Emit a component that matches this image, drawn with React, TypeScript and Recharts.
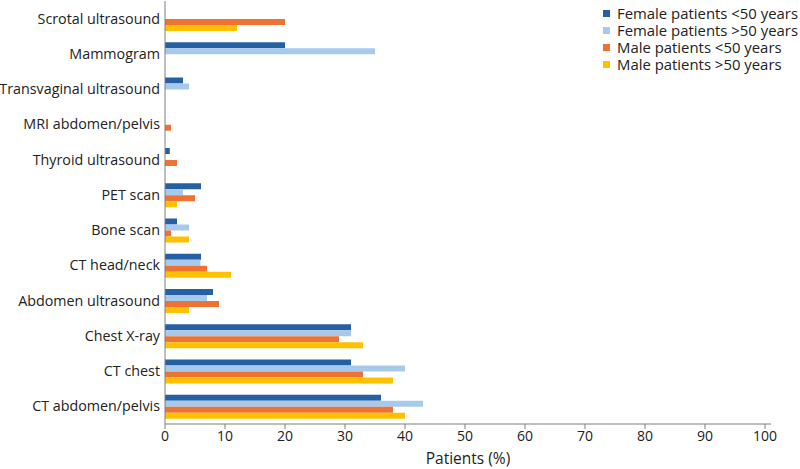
import { Bar, BarChart, XAxis, YAxis, Label } from 'recharts'

const categories = [
  'Scrotal ultrasound',
  'Mammogram',
  'Transvaginal ultrasound',
  'MRI abdomen/pelvis',
  'Thyroid ultrasound',
  'PET scan',
  'Bone scan',
  'CT head/neck',
  'Abdomen ultrasound',
  'Chest X-ray',
  'CT chest',
  'CT abdomen/pelvis',
]

const femaleUnder50 = [0, 20, 3, 0, 0.8, 6, 2, 6, 8, 31, 31, 36]
const femaleOver50 = [0, 35, 4, 0, 0, 3, 4, 5.9, 7, 31, 40, 43]
const maleUnder50 = [20, 0, 0, 1, 2, 5, 1, 7, 9, 29, 33, 38]
const maleOver50 = [12, 0, 0, 0, 0, 2, 4, 11, 4, 33, 38, 40]

const xTicks = [0, 10, 20, 30, 40, 50, 60, 70, 80, 90, 100]

const series = [
  { key: 'fu50', name: 'Female patients <50 years', color: '#2660A4', values: femaleUnder50 },
  { key: 'fo50', name: 'Female patients >50 years', color: '#A7C9EC', values: femaleOver50 },
  { key: 'mu50', name: 'Male patients <50 years', color: '#EE7232', values: maleUnder50 },
  { key: 'mo50', name: 'Male patients >50 years', color: '#FFC000', values: maleOver50 },
]

const data = categories.map((name, i) => {
  const row: Record<string, string | number> = { name }
  series.forEach((s) => {
    row[s.key] = s.values[i]
  })
  return row
})

const font = '"Open Sans", sans-serif'

function LegendBox() {
  return (
    <div
      style={{
        position: 'absolute',
        left: 603,
        top: 5,
        width: 197,
        fontFamily: font,
        fontSize: 14.9,
        color: '#222',
        lineHeight: '17px',
      }}
    >
      {series.map((s) => (
        <div key={s.key} style={{ display: 'flex', alignItems: 'center', whiteSpace: 'nowrap', height: 17 }}>
          <span style={{ width: 7, height: 7, background: s.color, marginRight: 7, flex: 'none' }} />
          {s.name}
        </div>
      ))}
    </div>
  )
}

export default function App() {
  return (
    <div style={{ position: 'absolute', left: 0, top: 0, width: 800, height: 469, background: '#fff' }}>
      <BarChart
        width={800}
        height={469}
        data={data}
        layout='vertical'
        margin={{ top: 1, right: 29, bottom: 0, left: 0 }}
        barGap={0}
        barSize={6}
      >
        <XAxis
          type='number'
          domain={[0, 101]}
          ticks={xTicks}
          height={45}
          stroke='#7f7f7f'
          tickSize={5}
          tickMargin={2}
          tick={{ fill: '#222', fontSize: 14, fontFamily: font }}
          allowDataOverflow
        >
          <Label
            value='Patients (%)'
            position='insideBottom'
            offset={5}
            style={{ fill: '#222', fontSize: 15.5, fontFamily: font }}
          />
        </XAxis>
        <YAxis
          type='category'
          dataKey='name'
          width={165}
          stroke='#7f7f7f'
          tickSize={0}
          tickMargin={5}
          interval={0}
          tick={{ fill: '#222', fontSize: 14.3, fontFamily: font }}
        />
        {series.map((s) => (
          <Bar key={s.key} dataKey={s.key} name={s.name} fill={s.color} isAnimationActive={false} />
        ))}
      </BarChart>
      <LegendBox />
    </div>
  )
}
